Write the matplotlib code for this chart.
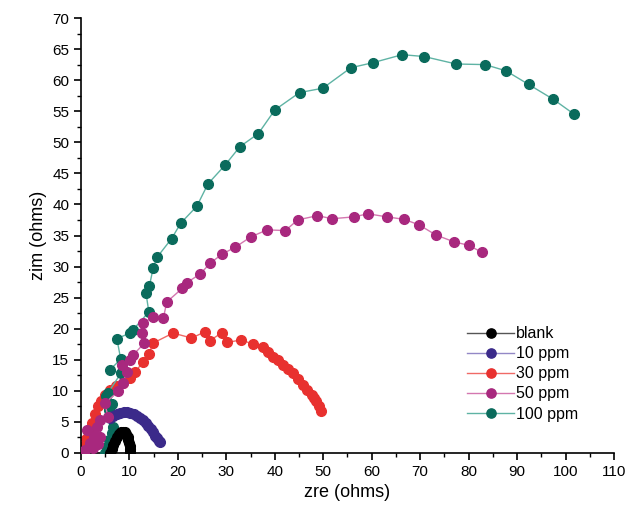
import matplotlib
matplotlib.use("Agg")
import matplotlib.pyplot as plt
from matplotlib.ticker import MultipleLocator

plt.rcParams["font.family"] = ["Liberation Sans", "DejaVu Sans"]

# Nyquist data (zre, zim) in ohms for each inhibitor concentration
blank_zre = [6.0, 6.3, 6.7, 7.0, 7.4, 7.8, 8.2, 8.6, 9.0, 9.3, 9.6, 9.8, 10.0, 10.1, 10.2, 10.2]
blank_zim = [0.0, 0.6, 1.3, 1.9, 2.5, 3.0, 3.3, 3.4, 3.3, 3.0, 2.6, 2.1, 1.6, 1.1, 0.6, 0.2]

ppm10_zre = [6.0, 6.7, 7.4, 8.1, 8.8, 9.5, 10.2, 10.9, 11.6, 12.2, 12.8, 13.4, 13.9, 14.4,
             14.9, 15.3, 15.7, 16.0, 16.3]
ppm10_zim = [5.6, 6.0, 6.3, 6.5, 6.6, 6.6, 6.5, 6.3, 6.0, 5.7, 5.3, 4.8, 4.3, 3.8,
             3.3, 2.8, 2.4, 2.0, 1.7]

ppm30_zre = [0.2, 0.6, 1.1, 1.6, 2.2, 2.9, 3.5, 4.2, 5.0, 6.0, 7.2, 8.6, 10.1, 11.2,
             12.8, 14.0, 14.9, 19.0, 22.8, 25.6, 26.6, 29.0, 30.2, 33.1, 35.5, 37.6,
             38.6, 39.6, 40.6, 41.7, 42.7, 43.8, 44.8, 45.8, 46.7, 47.6, 48.1, 48.6,
             49.1, 49.6]
ppm30_zim = [0.3, 1.2, 2.3, 3.5, 4.8, 6.2, 7.5, 8.4, 9.3, 10.1, 10.8, 11.3, 12.0, 13.1,
             14.6, 15.9, 17.7, 19.3, 18.5, 19.5, 18.1, 19.3, 17.8, 18.2, 17.5, 17.1,
             16.3, 15.5, 14.9, 14.2, 13.5, 12.8, 11.9, 10.9, 10.1, 9.3, 8.8, 8.3,
             7.5, 6.7]

ppm50_zre = [0.8, 1.9, 2.5, 3.5, 4.0, 2.6, 1.2, 3.2, 3.9, 5.6, 4.9, 7.7, 8.7, 9.4, 8.4,
             10.1, 10.8, 13.1, 12.5, 12.8, 14.9, 17.0, 17.7, 20.9, 21.8, 24.6, 26.6,
             29.1, 31.8, 35.1, 38.4, 42.2, 44.7, 48.8, 51.8, 56.4, 59.2, 63.1, 66.7,
             69.8, 73.2, 76.9, 80.1, 82.7]
ppm50_zim = [0.5, 1.6, 0.8, 1.5, 2.5, 2.8, 3.7, 4.2, 5.3, 5.8, 8.0, 9.9, 11.2, 13.1, 14.2,
             15.0, 15.8, 17.7, 19.3, 20.9, 21.9, 21.7, 24.3, 26.5, 27.4, 28.8, 30.5,
             32.0, 33.1, 34.8, 35.9, 35.8, 37.5, 38.2, 37.7, 38.0, 38.5, 38.0, 37.6,
             36.7, 35.1, 34.0, 33.4, 32.3]

ppm100_zre = [4.9, 5.3, 5.8, 6.3, 6.6, 5.8, 6.5, 5.1, 5.6, 8.2, 6.0, 8.2, 7.4, 10.1,
              10.7, 14.0, 13.4, 14.1, 14.9, 15.7, 18.7, 20.6, 23.9, 26.2, 29.7, 32.8,
              36.6, 40.0, 45.1, 49.9, 55.7, 60.2, 66.3, 70.8, 77.4, 83.4, 87.7, 92.4,
              97.5, 101.8]
ppm100_zim = [0.0, 1.0, 2.1, 3.2, 4.2, 6.9, 7.9, 9.1, 9.7, 12.8, 13.4, 15.1, 18.4, 19.3,
              19.8, 22.7, 25.8, 26.8, 29.8, 31.5, 34.5, 37.0, 39.7, 43.3, 46.3, 49.3,
              51.4, 55.2, 58.0, 58.7, 62.0, 62.8, 64.1, 63.8, 62.6, 62.5, 61.5, 59.3,
              56.9, 54.5]

# label, zre, zim, marker colour, line colour, stacking order
series = [
    ("blank", blank_zre, blank_zim, "#000000", "#555555", 4),
    ("10 ppm", ppm10_zre, ppm10_zim, "#3b2a8a", "#9388c6", 5),
    ("30 ppm", ppm30_zre, ppm30_zim, "#e8312f", "#f06a66", 2),
    ("50 ppm", ppm50_zre, ppm50_zim, "#a8287e", "#d477b0", 6),
    ("100 ppm", ppm100_zre, ppm100_zim, "#0a6b5c", "#5fb3a4", 3),
]

fig = plt.figure(figsize=(6.28, 5.14), dpi=100)
ax = fig.add_axes([81 / 628, 61 / 514, 533 / 628, 435 / 514])

for label, xs, ys, mcol, lcol, z in series:
    ax.plot(xs, ys, "-o", color=lcol, lw=1.0, ms=7, mfc=mcol, mec=mcol,
            label=label, zorder=z)

ax.set_xlim(0, 110)
ax.set_ylim(0, 70)
ax.xaxis.set_major_locator(MultipleLocator(10))
ax.xaxis.set_minor_locator(MultipleLocator(5))
ax.yaxis.set_major_locator(MultipleLocator(5))
ax.yaxis.set_minor_locator(MultipleLocator(2.5))
ax.tick_params(which="major", direction="out", length=5, width=1.2, labelsize=11)
ax.tick_params(which="minor", direction="out", length=3, width=1.0)
ax.spines["top"].set_visible(False)
ax.spines["right"].set_visible(False)
for s in ("left", "bottom"):
    ax.spines[s].set_linewidth(1.2)
ax.set_xlabel("zre (ohms)", fontsize=13)
ax.set_ylabel("zim (ohms)", fontsize=13)

ax.legend(loc="upper left", bbox_to_anchor=(0.71, 0.31), frameon=False,
          fontsize=11.5, handlelength=2.9, handletextpad=0.15,
          labelspacing=0.32, borderpad=0, markerscale=0.95)

fig.savefig("out.png", dpi=100)
